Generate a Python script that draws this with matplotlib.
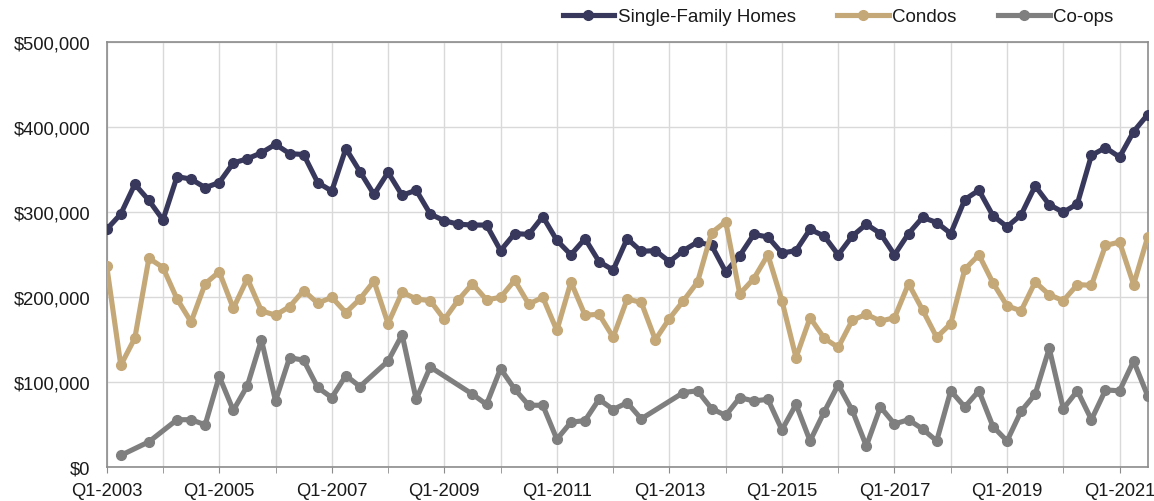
import numpy as np
import matplotlib
matplotlib.use("Agg")
import matplotlib.pyplot as plt
from matplotlib.ticker import FuncFormatter, MultipleLocator

plt.rcParams['font.family'] = ['Liberation Sans', 'DejaVu Sans']

# quarterly categories Q1-2003 .. Q3-2021
quarters = [f"Q{q}-{y}" for y in range(2003, 2022) for q in range(1, 5)][:75]

single_family = [
    280000, 298000, 333000, 314000, 291000, 342000, 339000, 329000, 335000, 358000,
    363000, 370000, 380000, 369000, 368000, 335000, 325000, 375000, 348000, 321000,
    347000, 320000, 326000, 298000, 290000, 286000, 285000, 285000, 255000, 275000,
    274000, 295000, 267000, 250000, 269000, 242000, 232000, 269000, 254000, 255000,
    242000, 255000, 265000, 261000, 230000, 249000, 274000, 271000, 252000, 255000,
    280000, 272000, 250000, 272000, 286000, 275000, 250000, 275000, 294000, 288000,
    275000, 315000, 326000, 296000, 283000, 297000, 331000, 309000, 300000, 310000,
    367000, 376000, 365000, 395000, 415000,
]

condos = [
    237000, 120000, 152000, 246000, 235000, 198000, 171000, 216000, 230000, 187000,
    222000, 184000, 179000, 189000, 208000, 193000, 200000, 182000, 198000, 219000,
    169000, 206000, 198000, 196000, 174000, 197000, 216000, 197000, 200000, 220000,
    192000, 200000, 161000, 218000, 179000, 180000, 153000, 198000, 194000, 150000,
    175000, 196000, 218000, 276000, 289000, 204000, 222000, 250000, 196000, 129000,
    176000, 152000, 141000, 173000, 180000, 172000, 176000, 216000, 185000, 153000,
    169000, 233000, 250000, 217000, 190000, 184000, 218000, 203000, 196000, 215000,
    214000, 261000, 265000, 215000, 271000,
]

# None = no co-op figure for that quarter
coops = [
    None, 14000, None, 30000, None, 56000, 56000, 50000, 107000, 67000,
    96000, 150000, 78000, 129000, 126000, 94000, 82000, 108000, 95000, None,
    125000, 156000, 80000, 118000, None, None, 86000, 74000, 116000, 92000,
    73000, 73000, 33000, 53000, 55000, 80000, 68000, 76000, 57000, None,
    None, 88000, 90000, 69000, 61000, 82000, 78000, 80000, 44000, 74000,
    31000, 65000, 97000, 67000, 25000, 71000, 51000, 56000, 45000, 31000,
    90000, 71000, 90000, 48000, 31000, 66000, 86000, 140000, 69000, 90000,
    56000, 91000, 90000, 125000, 84000,
]

x = np.arange(len(quarters))

fig = plt.figure(figsize=(11.54, 5.02), dpi=100)
ax = fig.add_axes([106.7 / 1154, 1 - 468.3 / 502, (1147.7 - 106.7) / 1154, (468.3 - 43.3) / 502])

lw, ms = 3.7, 7
ax.plot(x, single_family, color='#38385c', lw=lw, marker='o', ms=ms, label='Single-Family Homes', zorder=3)
ax.plot(x, condos, color='#c5a878', lw=lw, marker='o', ms=ms, label='Condos', zorder=3)
cx = [i for i, v in zip(x, coops) if v is not None]
cy = [v for v in coops if v is not None]
ax.plot(cx, cy, color='#7f7f7f', lw=lw, marker='o', ms=ms, label='Co-ops', zorder=3)

ax.set_xlim(0, len(quarters) - 1)
ax.set_ylim(0, 500000)
ax.set_xticks(x[::8])
ax.set_xticklabels(quarters[::8])
ax.set_xticks(x[4::8], minor=True)
ax.yaxis.set_major_locator(MultipleLocator(100000))
ax.yaxis.set_major_formatter(FuncFormatter(lambda v, p: f"${v:,.0f}"))

ax.grid(True, which='both', axis='x', color='#d9d9d9', lw=1)
ax.grid(True, which='major', axis='y', color='#d9d9d9', lw=1)
ax.set_axisbelow(True)
for s in ax.spines.values():
    s.set_color('#8c8c8c')
    s.set_linewidth(1.2)

ax.tick_params(axis='x', which='both', length=4.5, color='#8c8c8c', labelsize=13.2, pad=6,
               labelcolor='#1a1a1a')
ax.tick_params(axis='y', length=0, labelsize=13.2, pad=12, labelcolor='#1a1a1a')

leg = ax.legend(loc='center right', bbox_to_anchor=(1123 / 1154, 1 - 17.5 / 502),
                bbox_transform=fig.transFigure, ncol=3, frameon=False, fontsize=13.5,
                borderpad=0, handlelength=2.75, handletextpad=0.2, columnspacing=2.2)
for t in leg.get_texts():
    t.set_color('#1a1a1a')

fig.savefig('out.png', dpi=100)
